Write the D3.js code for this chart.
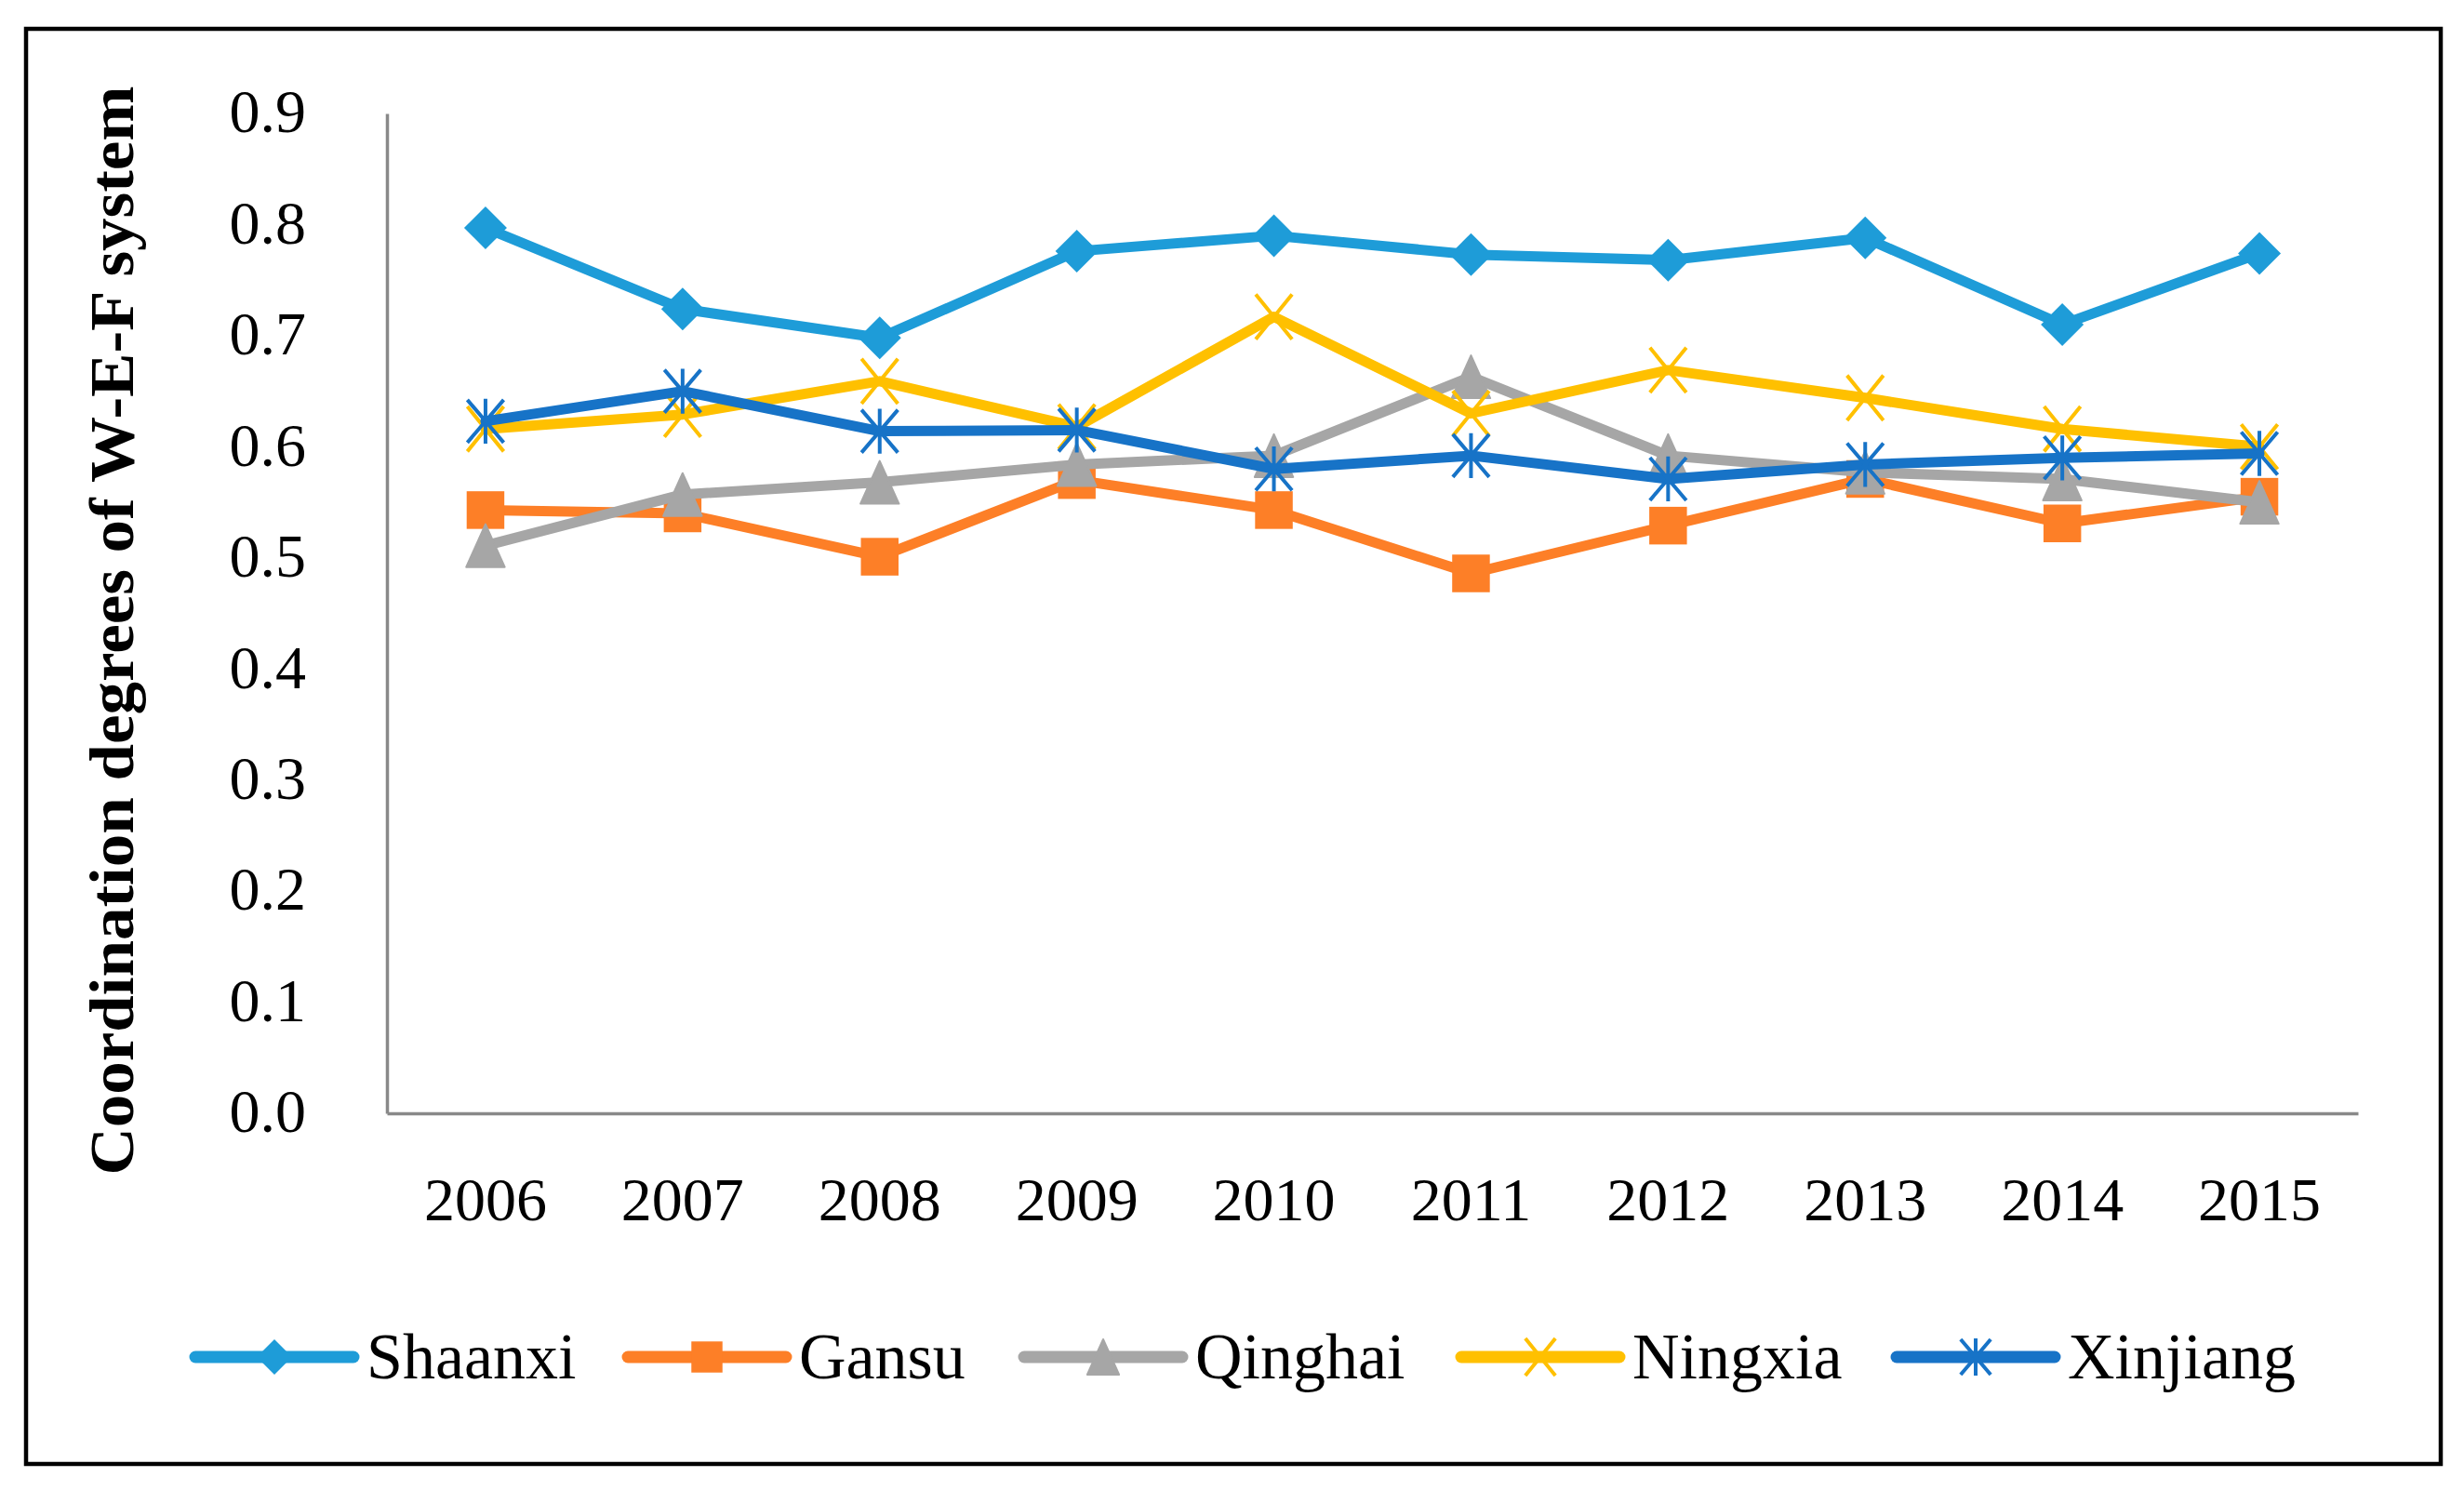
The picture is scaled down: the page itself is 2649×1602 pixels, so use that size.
<!DOCTYPE html>
<html>
<head>
<meta charset="utf-8">
<script src="https://cdn.jsdelivr.net/npm/d3@7"></script>
<style>
  html, body { margin: 0; padding: 0; background: #fff; }
  svg { display: block; }
</style>
</head>
<body>
<svg id="chart" width="2649" height="1602"></svg>
<script>
// ---- data ----
const years = ["2006","2007","2008","2009","2010","2011","2012","2013","2014","2015"];
const shaanxi  = [0.797, 0.724, 0.698, 0.776, 0.790, 0.773, 0.768, 0.788, 0.710, 0.774];
const gansu    = [0.543, 0.540, 0.501, 0.570, 0.543, 0.486, 0.529, 0.571, 0.531, 0.555];
const qinghai  = [0.511, 0.557, 0.568, 0.584, 0.592, 0.663, 0.592, 0.577, 0.571, 0.550];
const ningxia  = [0.616, 0.629, 0.659, 0.618, 0.717, 0.630, 0.669, 0.644, 0.616, 0.600];
const xinjiang = [0.623, 0.650, 0.614, 0.615, 0.580, 0.592, 0.571, 0.584, 0.590, 0.594];
const seriesNames = ["Shaanxi", "Gansu", "Qinghai", "Ningxia", "Xinjiang"];
const yTicks = [0, 0.1, 0.2, 0.3, 0.4, 0.5, 0.6, 0.7, 0.8, 0.9];
const yTitle = "Coordination degrees of W-E-F system";

// ---- styling / layout ----
const colors = ["#1E9CD8", "#FD7F27", "#A6A6A6", "#FFC000", "#1773C7"];
const markers = ["diamond", "square", "triangle", "x", "star"];
const series = [shaanxi, gansu, qinghai, ningxia, xinjiang].map((v, i) => ({
  name: seriesNames[i], values: v, color: colors[i], marker: markers[i]
}));

const svg = d3.select("#chart");
const font = "'Liberation Serif', 'DejaVu Serif', serif";
const plot = { left: 416, right: 2535, top: 122, bottom: 1197 };

// frame
svg.append("rect")
  .attr("x", 28).attr("y", 31).attr("width", 2596).attr("height", 1543)
  .attr("fill", "none").attr("stroke", "#000").attr("stroke-width", 4.5);

const x = d3.scaleBand().domain(years).range([plot.left, plot.right]);
const y = d3.scaleLinear().domain([0, 0.9]).range([plot.bottom, plot.top]);

// y axis
const yAxis = svg.append("g")
  .attr("transform", `translate(${plot.left},0)`)
  .call(d3.axisLeft(y).tickValues(yTicks).tickFormat(d3.format(".1f")).tickSize(0).tickPadding(87));
yAxis.select(".domain").attr("stroke", "#898989").attr("stroke-width", 3.5);
yAxis.selectAll("text").attr("font-family", font).attr("font-size", 66).attr("fill", "#000")
  .attr("dy", "0.30em");

// x axis
const xAxis = svg.append("g")
  .attr("transform", `translate(0,${plot.bottom})`)
  .call(d3.axisBottom(x).tickSize(0).tickPadding(68));
xAxis.select(".domain").attr("stroke", "#898989").attr("stroke-width", 3.5);
xAxis.selectAll("text").attr("font-family", font).attr("font-size", 66).attr("fill", "#000")
  .attr("dy", "0.71em");

// y title
svg.append("text")
  .attr("transform", `translate(143,678) rotate(-90)`)
  .attr("text-anchor", "middle")
  .attr("font-family", font).attr("font-weight", "bold").attr("font-size", 68)
  .attr("textLength", 1171).attr("lengthAdjust", "spacingAndGlyphs")
  .attr("fill", "#000")
  .text(yTitle);

// marker drawing
function drawMarker(g, type, color, size) {
  const h = size / 2;
  if (type === "diamond") {
    g.append("path").attr("d", `M0,${-h}L${h},0L0,${h}L${-h},0Z`).attr("fill", color);
  } else if (type === "square") {
    const s = size * 0.88;
    g.append("rect").attr("x", -s/2).attr("y", -s/2).attr("width", s).attr("height", s).attr("fill", color);
  } else if (type === "triangle") {
    g.append("path").attr("d", `M0,${-h}L${h*0.9},${h}L${-h*0.9},${h}Z`).attr("fill", color)
      .attr("stroke", color).attr("stroke-width", 2).attr("stroke-linejoin", "round");
  } else if (type === "x") {
    const a = h * 0.85, b = h * 1.05;
    g.append("path").attr("d", `M${-a},${-b}L${a},${b}M${a},${-b}L${-a},${b}`)
      .attr("stroke", color).attr("stroke-width", 4).attr("fill", "none");
  } else if (type === "star") {
    const a = h * 0.85, b = h;
    g.append("path").attr("d", `M${-a},${-b}L${a},${b}M${a},${-b}L${-a},${b}M0,${-b*1.05}L0,${b*1.05}`)
      .attr("stroke", color).attr("stroke-width", 4).attr("fill", "none");
  }
}

const line = d3.line()
  .x((d, i) => x(years[i]) + x.bandwidth() / 2)
  .y(d => y(d));

series.forEach(s => {
  const g = svg.append("g");
  g.append("path")
    .attr("d", line(s.values))
    .attr("fill", "none")
    .attr("stroke", s.color)
    .attr("stroke-width", 11)
    .attr("stroke-linejoin", "round")
    .attr("stroke-linecap", "round");
  s.values.forEach((v, i) => {
    const mg = g.append("g")
      .attr("transform", `translate(${x(years[i]) + x.bandwidth() / 2},${y(v)})`);
    drawMarker(mg, s.marker, s.color, 46);
  });
});

// legend
const legendX = [210, 675, 1101, 1571, 2039];
const legendY = 1459;
series.forEach((s, i) => {
  const g = svg.append("g").attr("transform", `translate(${legendX[i]},${legendY})`);
  g.append("line").attr("x1", 0).attr("x2", 170).attr("y1", 0).attr("y2", 0)
    .attr("stroke", s.color).attr("stroke-width", 13).attr("stroke-linecap", "round");
  const mg = g.append("g").attr("transform", "translate(85,0)");
  drawMarker(mg, s.marker, s.color, 38);
  g.append("text")
    .attr("x", 184).attr("y", 0).attr("dy", "0.33em")
    .attr("font-family", font).attr("font-size", 70).attr("fill", "#000")
    .text(s.name);
});
</script>
</body>
</html>
